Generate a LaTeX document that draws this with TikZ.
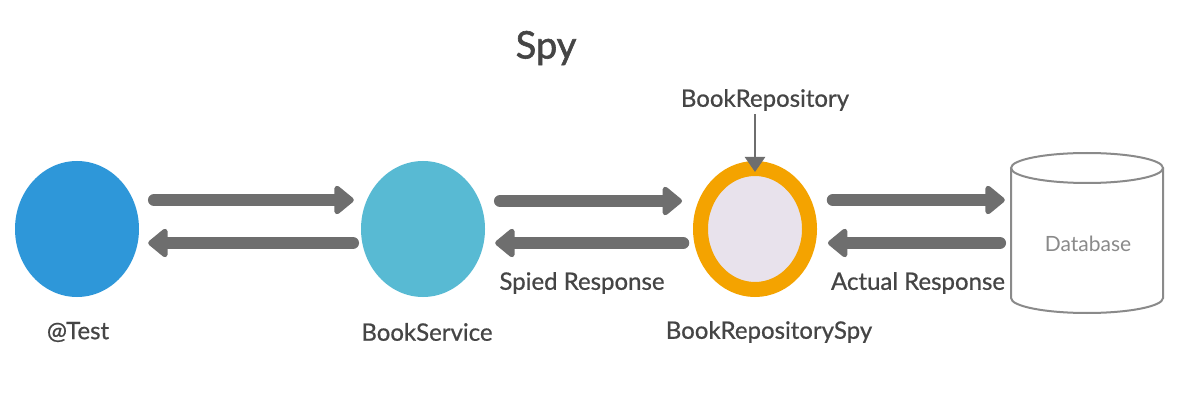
\documentclass[tikz,border=0pt]{standalone}
\usepackage{fontspec}
\setmainfont{Lato}
\newfontfamily\medfont{Lato}[FakeBold=0.7]
\newfontfamily\titlefont{Lato}[FakeBold=1.6]
\usetikzlibrary{shapes.geometric,arrows.meta}
\definecolor{testblue}{HTML}{2E97D9}
\definecolor{svcteal}{HTML}{58BAD3}
\definecolor{spyorange}{HTML}{F4A300}
\definecolor{spyfill}{HTML}{E8E2EC}
\definecolor{arrowgray}{HTML}{6E6E6E}
\definecolor{dbgray}{HTML}{8A8A8A}
\definecolor{textgray}{HTML}{454545}
\tikzset{
  blob/.style={ellipse, inner sep=0pt, minimum width=124pt, minimum height=136pt},
  bigarrow/.style={draw=arrowgray, line width=12.5pt, line cap=round,
    -{Triangle[round, length=21pt, width=33pt]}},
  thinarrow/.style={draw=arrowgray, line width=2.5pt,
    -{Triangle[length=15pt, width=20pt]}},
  lbl/.style={text=textgray, font=\medfont\fontsize{24}{28}\selectfont, inner sep=0pt},
}
\begin{document}
\begin{tikzpicture}[x=1pt,y=-1pt]
\useasboundingbox[fill=white] (0,0) rectangle (1186,406);
% title
\node[text=textgray, font=\titlefont\fontsize{38}{42}\selectfont, inner sep=0pt] (title) at (546,48) {Spy};
% nodes
\node[blob, fill=testblue] (test) at (77,229) {};
\node[blob, fill=svcteal] (svc) at (423,229) {};
\node[ellipse, inner sep=0pt, minimum width=109pt, minimum height=121pt,
      draw=spyorange, line width=15pt, fill=spyfill] (spy) at (755,229) {};
% database cylinder
\node[minimum width=152pt, minimum height=162pt, inner sep=0pt] (db) at (1087,229) {};
\draw[dbgray, line width=2pt] (1087,168) ellipse [x radius=76, y radius=15];
\draw[dbgray, line width=2pt] (1011,168) -- (1011,298) arc[start angle=180, end angle=360, x radius=76, y radius=-15] -- (1163,168);
\node[text=dbgray, font=\fontsize{21}{24}\selectfont, inner sep=0pt] (dbtext) at (1088,244) {Database};
% labels
\node[lbl] (ltest) at (78,332) {@Test};
\node[lbl] (lsvc) at (427,332) {BookService};
\node[lbl] (lspy) at (769,332) {BookRepositorySpy};
\node[lbl] (lspied) at (582,283) {Spied Response};
\node[lbl] (lactual) at (918,283) {Actual Response};
\node[lbl] (repo) at (765,100) {BookRepository};
% arrows
\draw[bigarrow] ([shift={(15,-29)}]test.east) -- ([shift={(-7,-29)}]svc.west);
\draw[bigarrow] ([shift={(-8,14)}]svc.west) -- ([shift={(9,14)}]test.east);
\draw[bigarrow] ([shift={(15,-28)}]svc.east) -- ([shift={(-11,-28)}]spy.west);
\draw[bigarrow] ([shift={(-10,14)}]spy.west) -- ([shift={(10,14)}]svc.east);
\draw[bigarrow] ([shift={(16,-29)}]spy.east) -- ([shift={(-6,-29)}]db.west);
\draw[bigarrow] ([shift={(-11,14)}]db.west) -- ([shift={(11,14)}]spy.east);
\draw[thinarrow] ([shift={(-10,3)}]repo.south) -- ([shift={(0,11)}]spy.north);
\end{tikzpicture}
\end{document}
